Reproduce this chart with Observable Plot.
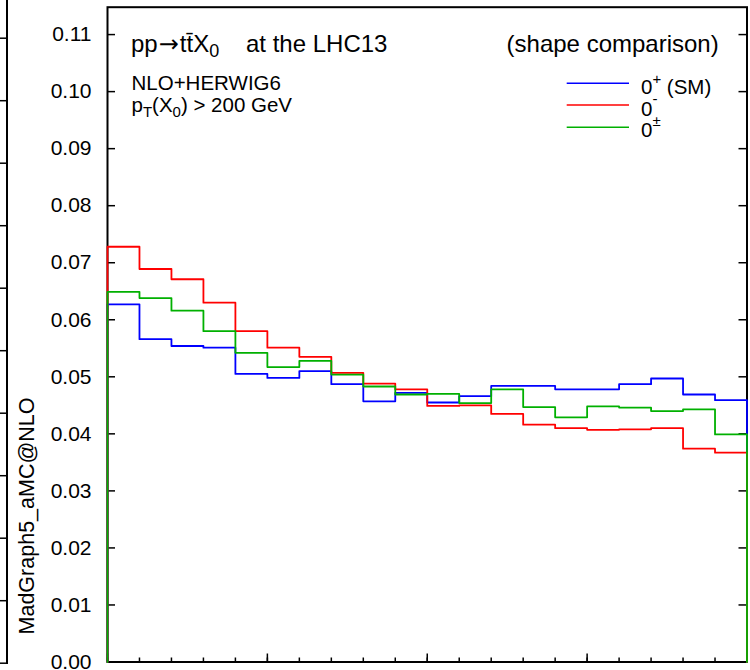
<!DOCTYPE html>
<html><head><meta charset="utf-8">
<script src="https://cdn.jsdelivr.net/npm/d3@7"></script>
<script src="https://cdn.jsdelivr.net/npm/@observablehq/plot@0.6"></script>
<style>
body{margin:0;background:#fff;}
#wrap{position:relative;width:750px;height:670px;overflow:hidden;font-family:"Liberation Sans",Arial,Helvetica,sans-serif;}
#wrap > svg, #wrap > div{position:absolute;left:0;top:0;}
</style></head><body><div id="wrap"></div>
<script>
// ---- data ----
const binEdges = [0,1,2,3,4,5,6,7,8,9,10,11,12,13,14,15,16,17,18,19,20];
const majorEdges = [0,5,10,15,20];
const seriesNames = ["0+ (SM)", "0-", "0±"];
const smValues = [0.0627,0.0566,0.0554,0.0551,0.0505,0.0498,0.0510,0.0487,0.0457,0.0472,0.0455,0.0466,0.0484,0.0484,0.0478,0.0478,0.0487,0.0497,0.0469,0.0459];
const oddValues = [0.0728,0.0689,0.0671,0.0630,0.0580,0.0551,0.0535,0.0507,0.0488,0.0478,0.0449,0.0450,0.0435,0.0416,0.0410,0.0407,0.0408,0.0410,0.0374,0.0367];
const mixValues = [0.0649,0.0638,0.0616,0.0580,0.0542,0.0517,0.0528,0.0504,0.0483,0.0469,0.0470,0.0454,0.0478,0.0447,0.0429,0.0448,0.0446,0.0440,0.0443,0.0399];
const yTicks = [0,0.01,0.02,0.03,0.04,0.05,0.06,0.07,0.08,0.09,0.10,0.11];
const yTickLabels = ["0.00","0.01","0.02","0.03","0.04","0.05","0.06","0.07","0.08","0.09","0.10","0.11"];
const neighborTicks = [0,1,2,3,4,5,6,7,8,9,10];

// histogram outline: rises from 0 at the first edge, falls to 0 at the last edge
function outline(vals, name){
  const pts = [{x: binEdges[0], y: 0, s: name}];
  vals.forEach((v, i) => pts.push({x: binEdges[i], y: v, s: name}));
  const n = vals.length;
  pts.push({x: binEdges[n], y: vals[n-1], s: name});
  pts.push({x: binEdges[n], y: 0, s: name});
  return pts;
}
const lineData = [
  ...outline(smValues, seriesNames[0]),
  ...outline(oddValues, seriesNames[1]),
  ...outline(mixValues, seriesNames[2])
];

const W = 750, H = 670, mL = 107, mR = 3.5, mT = 6.7, mB = 8.5;
const pw = W - mL - mR, ph = H - mT - mB;

const chart = Plot.plot({
  width: W, height: H,
  marginLeft: mL, marginRight: mR, marginTop: mT, marginBottom: mB,
  style: {fontFamily: '"Liberation Sans", Arial, Helvetica, sans-serif', fontSize: "21px", color: "#000", background: "transparent"},
  x: {domain: [binEdges[0], binEdges[binEdges.length-1]], axis: null},
  y: {domain: [0, 0.1148]},
  color: {domain: seriesNames, range: ["#0000ff", "#ff0000", "#00b000"]},
  marks: [
    Plot.frame({stroke: "#000", strokeWidth: 2}),
    Plot.ruleY(yTicks, {stroke: "#000", strokeWidth: 1.5, insetRight: pw - 8}),
    Plot.ruleY(yTicks, {stroke: "#000", strokeWidth: 1.5, insetLeft: pw - 8}),
    Plot.ruleX(binEdges, {stroke: "#000", strokeWidth: 1.5, insetTop: ph - 4}),
    Plot.ruleX(majorEdges, {stroke: "#000", strokeWidth: 1.5, insetTop: ph - 8}),
    Plot.axisY(yTicks, {tickSize: 0, tickPadding: 16, label: null, tickFormat: (d, i) => yTickLabels[i], fontSize: 21}),
    Plot.line(lineData, {x: "x", y: "y", z: "s", stroke: "s", curve: "step-after", strokeWidth: 1.8})
  ]
});
const wrap = document.getElementById("wrap");

// neighbouring panel edge (cropped) on the far left
const nb = document.createElement("div");
nb.style.cssText = "width:6px;height:663.5px;border-right:2px solid #000;";
wrap.appendChild(nb);
const nbTicks = Plot.plot({
  width: 8, height: H, margin: 0, marginTop: 37.7, marginBottom: H - 662.7,
  x: {axis: null}, y: {domain: [0, 10], axis: null},
  style: {background: "transparent"},
  marks: [Plot.ruleY(neighborTicks, {stroke: "#000", strokeWidth: 1.5})]
});
wrap.appendChild(nbTicks);
wrap.appendChild(chart);

// annotations & legend
const ns = "http://www.w3.org/2000/svg";
const ov = document.createElementNS(ns, "svg");
ov.setAttribute("width", W); ov.setAttribute("height", H);
ov.setAttribute("font-family", "Liberation Sans, Arial, Helvetica, sans-serif");
ov.innerHTML = `
<text x="131" y="51.7" font-size="24">pp<tspan font-family="DejaVu Sans" font-size="24" dx="1">→</tspan><tspan dx="1">tt̄X</tspan><tspan font-size="18" dy="5">0</tspan></text>
<text x="246" y="51.7" font-size="24">at the LHC13</text>
<text x="718.7" y="51.7" font-size="24" text-anchor="end">(shape comparison)</text>
<text x="131.5" y="90" font-size="20.5">NLO+HERWIG6</text>
<text x="131.5" y="111.7" font-size="20.5">p<tspan font-size="15" dy="5">T</tspan><tspan dy="-5">(X</tspan><tspan font-size="15" dy="5">0</tspan><tspan dy="-5">) &gt; 200 GeV</tspan></text>
<line x1="566.7" x2="629" y1="83.3" y2="83.3" stroke="#0000ff" stroke-width="1.6"/>
<line x1="566.7" x2="629" y1="105" y2="105" stroke="#ff0000" stroke-width="1.6"/>
<line x1="566.7" x2="629" y1="127.3" y2="127.3" stroke="#00b000" stroke-width="1.6"/>
<text x="641" y="94" font-size="20.5">0<tspan font-size="15" dy="-10">+</tspan><tspan dy="10"> (SM)</tspan></text>
<text x="641" y="115.5" font-size="20.5">0<tspan font-size="15" dy="-12">-</tspan></text>
<text x="641" y="137.3" font-size="20.5">0<tspan font-size="15" dy="-11">±</tspan></text>
<text transform="translate(33.5,516) rotate(-90)" text-anchor="middle" font-size="21.5">MadGraph5_aMC@NLO</text>
`;
wrap.appendChild(ov);
</script>
</body></html>
